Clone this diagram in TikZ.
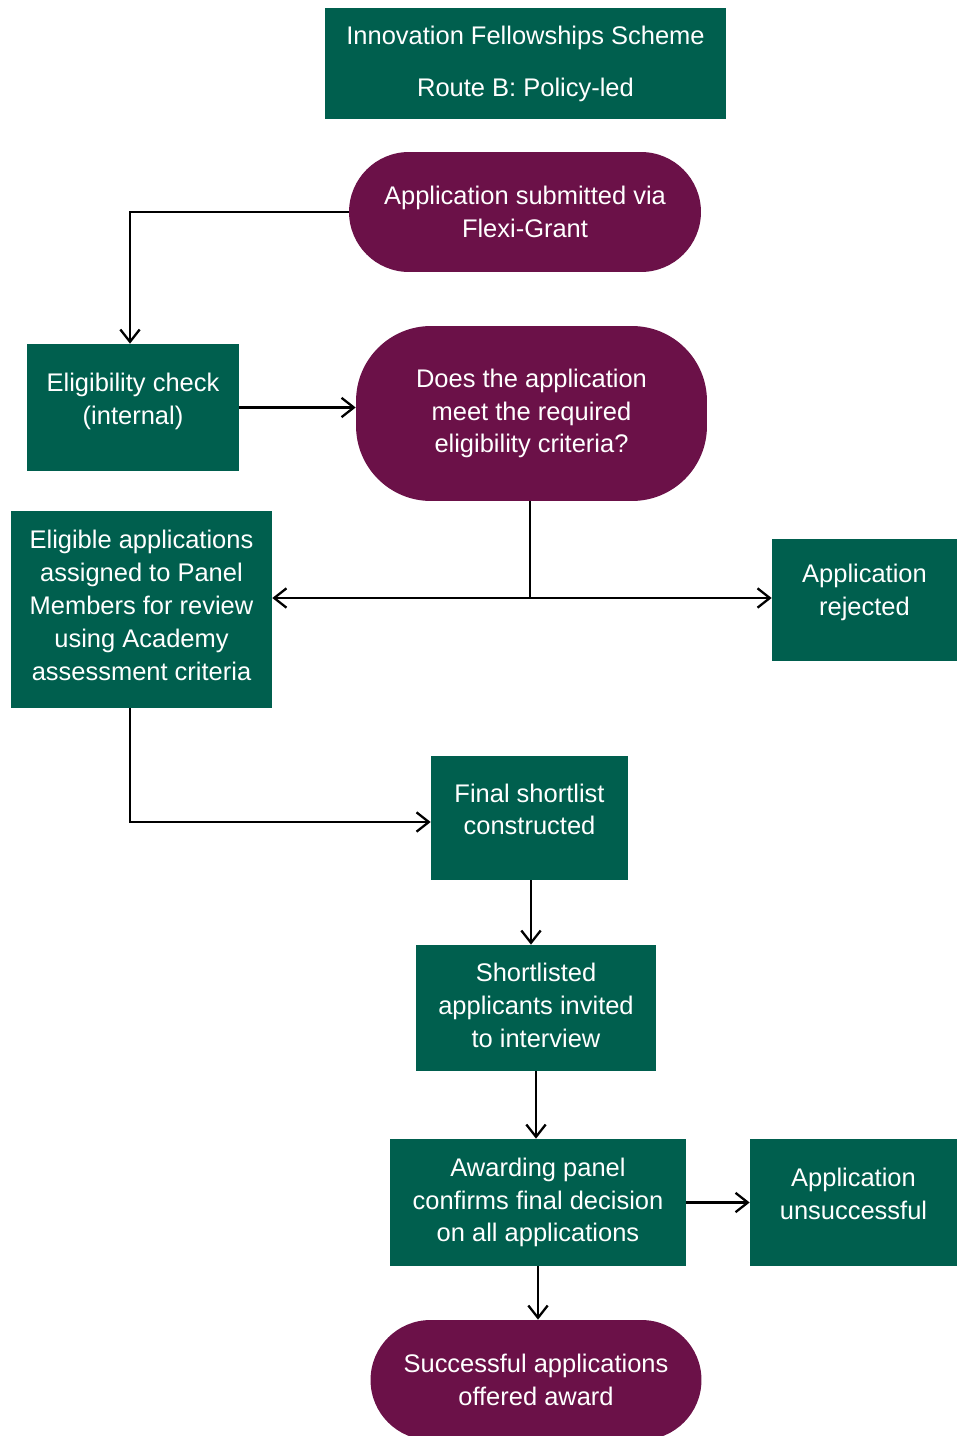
\documentclass[tikz,border=0pt]{standalone}
\usepackage{fontspec}
\setmainfont{Liberation Sans}
\usetikzlibrary{arrows.meta}
\definecolor{schemegreen}{RGB}{0,95,78}
\definecolor{schemeplum}{RGB}{107,17,72}
\newcommand{\lift}[1]{\rule[-#1]{0pt}{0pt}}
\tikzset{
	boxtext/.style={text=white, align=center, inner sep=0pt, font=\fontsize{14.5}{18.7}\selectfont},
	greenbox/.style={boxtext, fill=schemegreen},
	plumpill/.style={boxtext, fill=schemeplum},
	flow/.style={line width=1.3pt, -{Straight Barb[length=7pt,width=11pt,line width=1.3pt]}},
}

\begin{document}
\begin{tikzpicture}[x=0.02cm, y=-0.02cm]
		%%%%% START %%%%%
		\useasboundingbox (0, 0) rectangle (957, 1436);
		\clip (0, 0) rectangle (957, 1436);
		
		\node[greenbox, minimum width=8.02cm, minimum height=2.22cm] (title) at (525.5, 63.5)
			{Innovation Fellowships Scheme\\[10.8pt] Route B: Policy-led\lift{3pt}};
		
		\node[plumpill, rounded corners=1.2cm, minimum width=7.04cm, minimum height=2.4cm] (submit) at (525, 212)
			{Application submitted via\\ Flexi-Grant};
		\node[greenbox, minimum width=4.24cm, minimum height=2.54cm] (check) at (133, 407.5)
			{Eligibility check\\ (internal)\lift{10pt}};
		\node[plumpill, rounded corners=1.5cm, minimum width=7.02cm, minimum height=3.5cm] (decision) at (531.5, 413.5)
			{Does the application\\ meet the required\\ eligibility criteria?};
		
		\node[greenbox, minimum width=5.22cm, minimum height=3.94cm] (eligible) at (141.5, 609.5)
			{Eligible applications\\ assigned to Panel\\ Members for review\\ using Academy\\ assessment criteria\lift{5pt}};
		\node[greenbox, minimum width=3.7cm, minimum height=2.44cm] (rejected) at (864.5, 600)
			{Application\\ rejected\lift{12pt}};
		
		\node[greenbox, minimum width=3.94cm, minimum height=2.48cm] (shortlist) at (529.5, 818)
			{Final shortlist\\ constructed\lift{10pt}};
		\node[greenbox, minimum width=4.8cm, minimum height=2.52cm] (invited) at (536, 1008)
			{Shortlisted\\ applicants invited\\ to interview\lift{3.5pt}};
		\node[greenbox, minimum width=5.92cm, minimum height=2.54cm] (awarding) at (538, 1202.5)
			{Awarding panel\\ confirms final decision\\ on all applications};
		\node[greenbox, minimum width=4.14cm, minimum height=2.54cm] (unsuccess) at (853.5, 1202.5)
			{Application\\ unsuccessful\lift{10pt}};
		\node[plumpill, rounded corners=1.2cm, minimum width=6.62cm, minimum height=2.4cm] (offered) at (536, 1380)
			{Successful applications\\ offered award};
		
		% connectors
		\draw[flow] (submit.west) -| ([xshift=-0.06cm]check.north);
		\draw[flow] (check.east) -- (check.east -| decision.west);
		
		\coordinate (split) at (530, 598);
		\draw[line width=1.3pt] (split |- decision.south) -- (split);
		\draw[flow] (split) -- (split -| eligible.east);
		\draw[flow] (split) -- (split -| rejected.west);
		
		\draw[flow] ([xshift=-0.23cm]eligible.south) |- ([yshift=-0.08cm]shortlist.west);
		\draw[flow] ([xshift=0.03cm]shortlist.south) -- ([xshift=0.03cm]shortlist.south |- invited.north);
		\draw[flow] (invited.south) -- (invited.south |- awarding.north);
		\draw[flow] (awarding.east) -- (unsuccess.west);
		\draw[flow] (awarding.south) -- (awarding.south |- offered.north);
		
		%%%%% END %%%%%
\end{tikzpicture}
\end{document}
